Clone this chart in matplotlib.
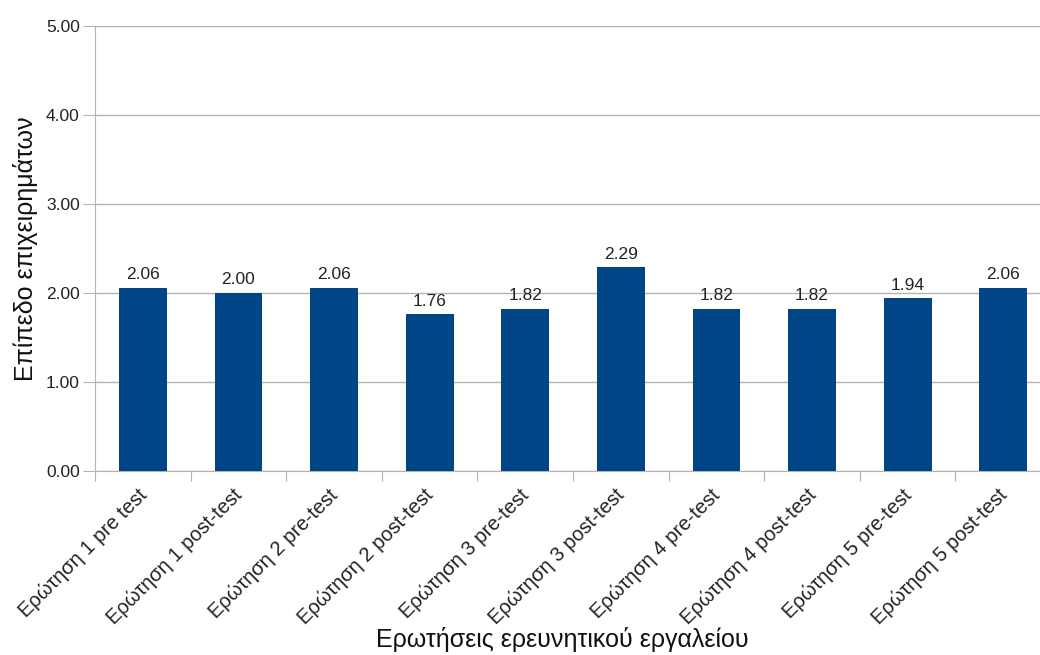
import matplotlib.pyplot as plt
import matplotlib.transforms as mtransforms
import numpy as np

categories = [
    'Ερώτηση 1 pre test', 'Ερώτηση 1 post-test',
    'Ερώτηση 2 pre-test', 'Ερώτηση 2 post-test',
    'Ερώτηση 3 pre-test', 'Ερώτηση 3 post-test',
    'Ερώτηση 4 pre-test', 'Ερώτηση 4 post-test',
    'Ερώτηση 5 pre-test', 'Ερώτηση 5 post-test',
]
scores = [2.06, 2.00, 2.06, 1.76, 1.82, 2.29, 1.82, 1.82, 1.94, 2.06]

plt.rcParams['font.family'] = ['Liberation Sans', 'DejaVu Sans']

fig = plt.figure(figsize=(10.4, 6.55), dpi=100)
# axes runs a little past the right edge, like the cropped original
ax = fig.add_axes([95 / 1040, 184 / 655, 956 / 1040, 445 / 655])

x = np.arange(len(categories))
bars = ax.bar(x, scores, width=0.5, color='#004586', zorder=3)
ax.bar_label(bars, labels=['{:.2f}'.format(v) for v in scores],
             padding=4, fontsize=12.5, color='#222222')

ax.set_xlim(-0.5, len(categories) - 0.5)
ax.set_ylim(0, 5)
ax.set_yticks(np.arange(0, 5.01, 1))
ax.set_yticklabels(['{:.2f}'.format(v) for v in np.arange(0, 5.01, 1)],
                   fontsize=12.5, color='#222222')
ax.yaxis.grid(True, color='#b3b3b3', linewidth=1, zorder=0)

# category ticks sit between bars, names are drawn under each bar
ax.set_xticks(np.arange(-0.5, len(categories), 1))
ax.set_xticklabels([])
ax.tick_params(axis='x', length=7, color='#b3b3b3')
ax.tick_params(axis='y', length=9, color='#b3b3b3', pad=2)

shift = mtransforms.ScaledTranslation(-6 / 100, -14 / 100, fig.dpi_scale_trans)
for xi, name in zip(x, categories):
    ax.text(xi, 0, name, transform=ax.get_xaxis_transform() + shift,
            rotation=45, ha='right', va='top', rotation_mode='anchor',
            fontsize=14.5, color='#222222')

for side in ('top', 'right'):
    ax.spines[side].set_visible(False)
for side in ('left', 'bottom'):
    ax.spines[side].set_color('#b3b3b3')

ax.set_ylabel('Επίπεδο επιχειρημάτων', fontsize=18, color='#111111', labelpad=6)
fig.text(562 / 1040, 15 / 655, 'Ερωτήσεις ερευνητικού εργαλείου',
         ha='center', va='center', fontsize=18, color='#111111')

fig.savefig('out.png', dpi=100)
